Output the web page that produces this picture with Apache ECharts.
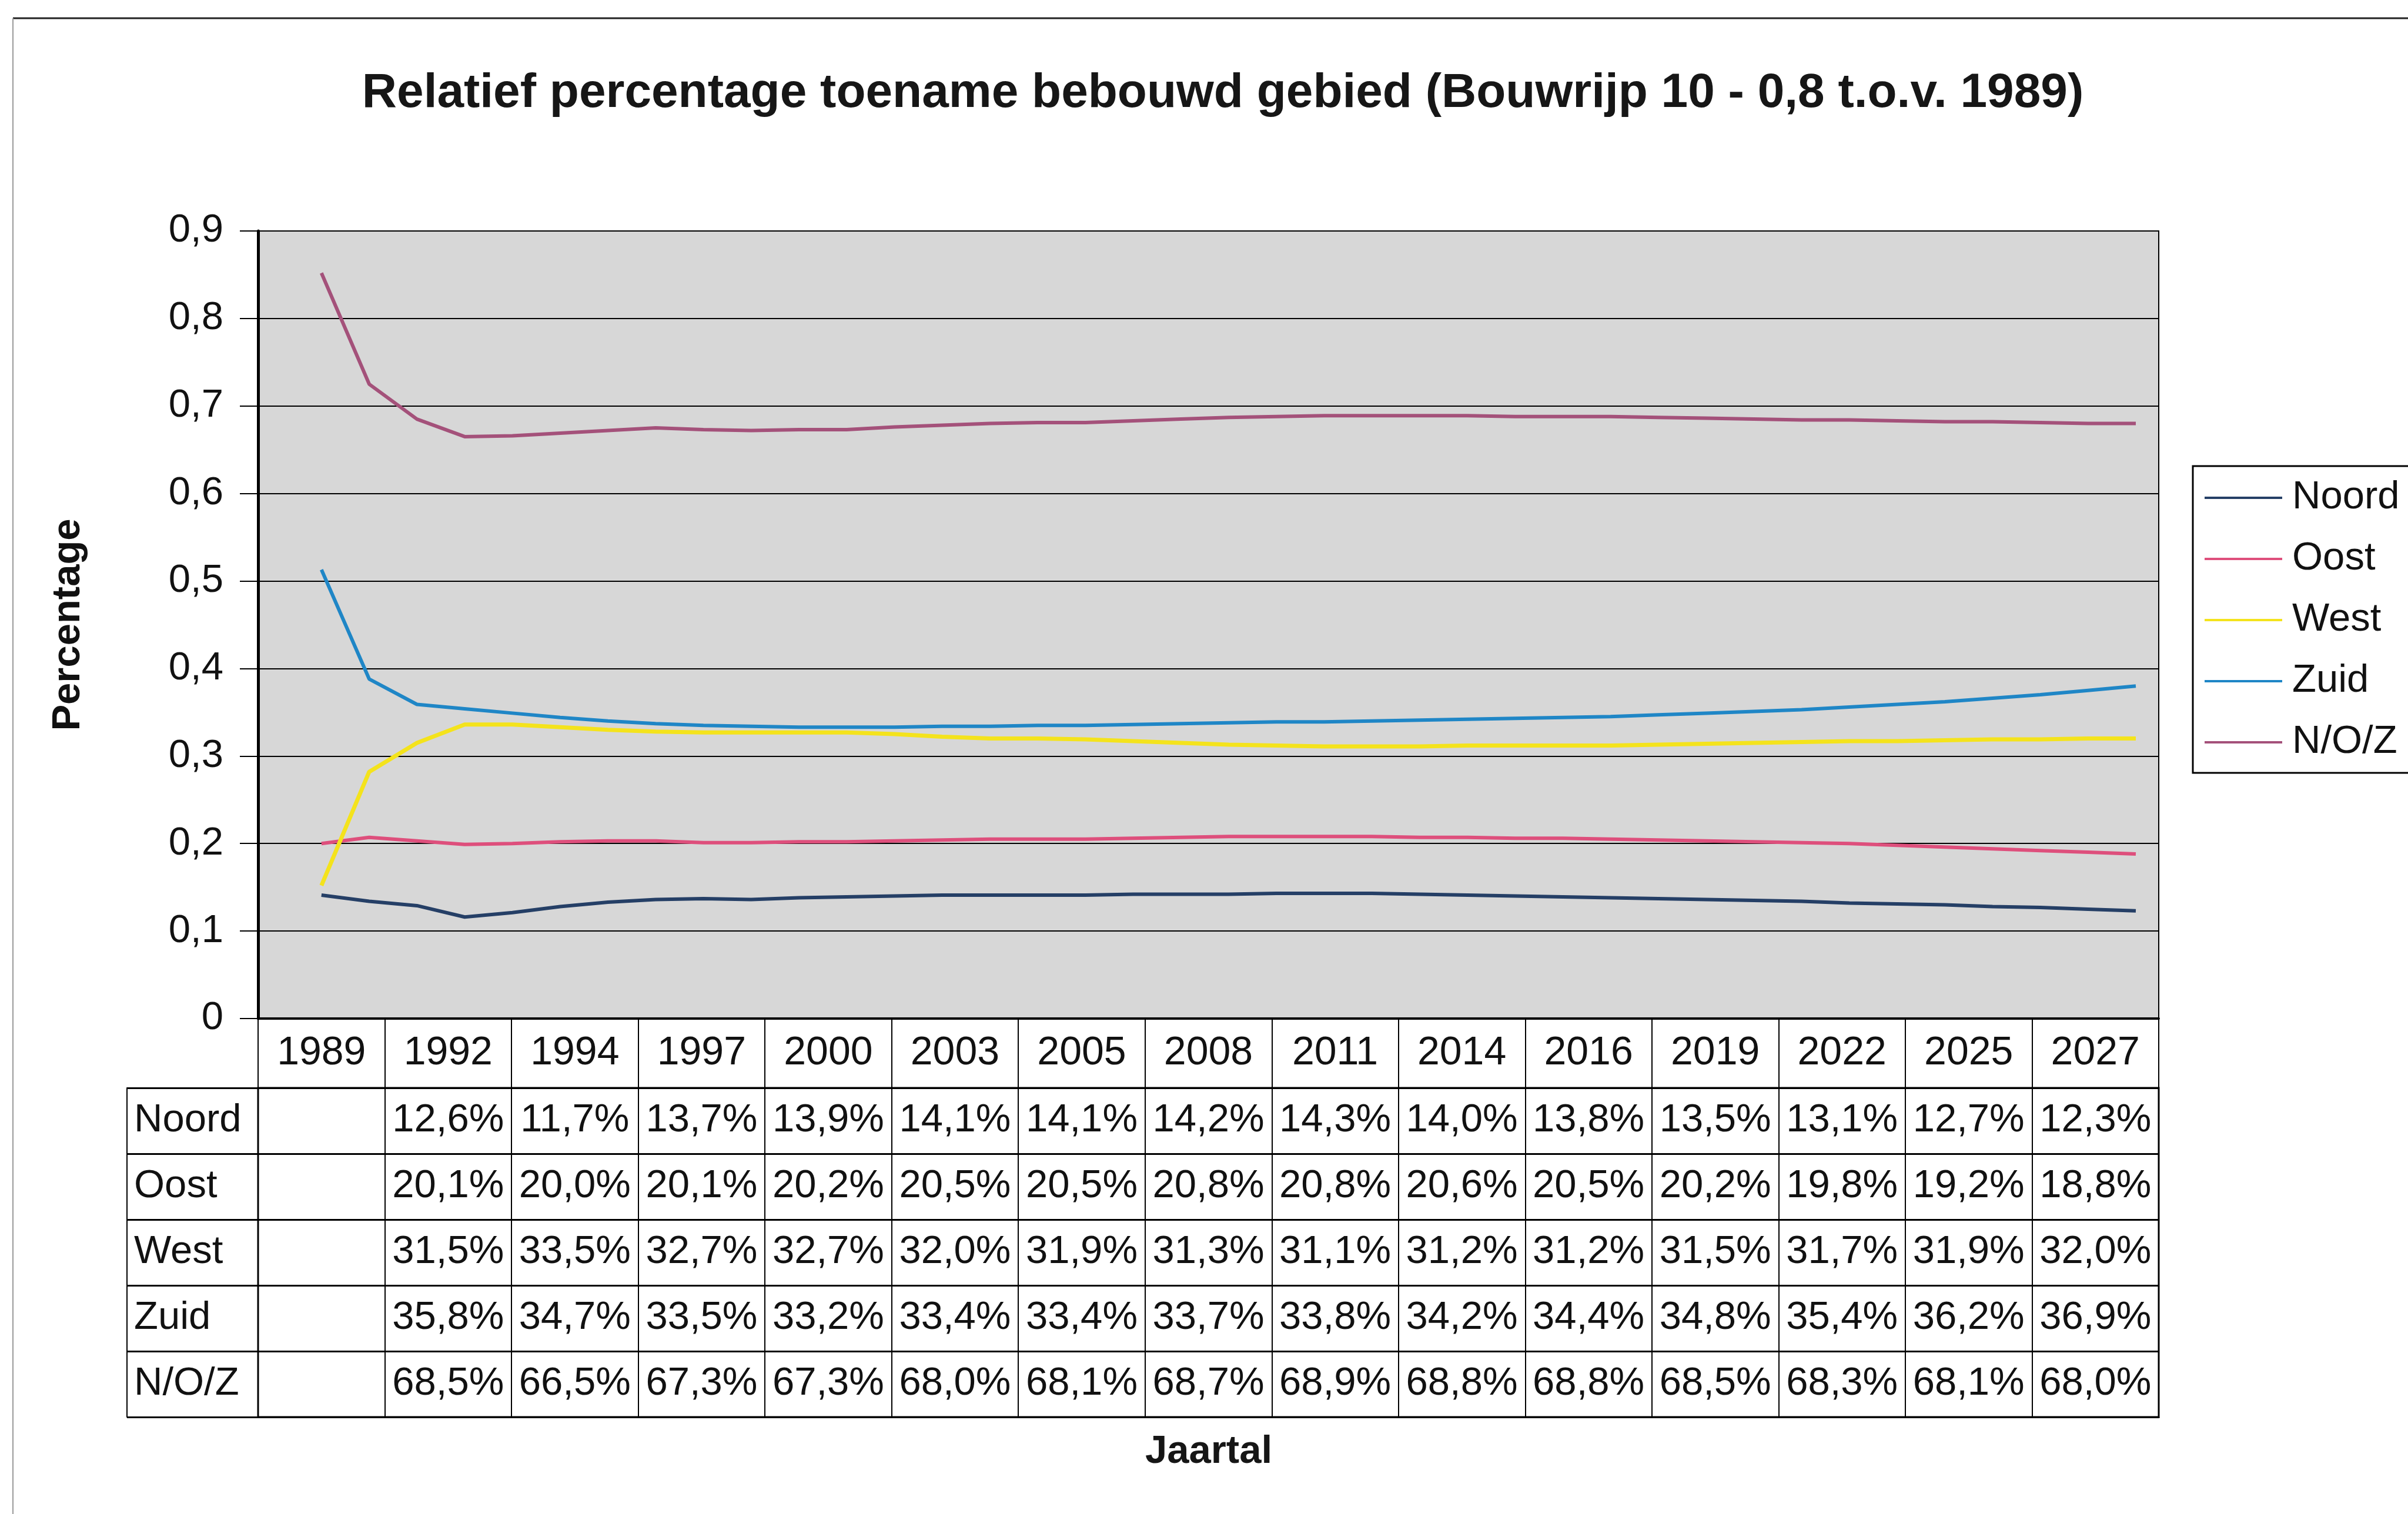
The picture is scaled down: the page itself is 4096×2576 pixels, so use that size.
<!DOCTYPE html>
<html>
<head>
<meta charset="utf-8">
<title>Relatief percentage toename bebouwd gebied</title>
<script src="https://cdn.jsdelivr.net/npm/echarts@6/dist/echarts.min.js"></script>
<style>
  html, body { margin: 0; padding: 0; background: #ffffff; }
  #chart { width: 4096px; height: 2576px; }
</style>
</head>
<body>
<div id="chart"></div>
<script>
// Yearly model output, 1989 - 2027
const years = [1989, 1990, 1991, 1992, 1993, 1994, 1995, 1996, 1997, 1998,
               1999, 2000, 2001, 2002, 2003, 2004, 2005, 2006, 2007, 2008,
               2009, 2010, 2011, 2012, 2013, 2014, 2015, 2016, 2017, 2018,
               2019, 2020, 2021, 2022, 2023, 2024, 2025, 2026, 2027];

const noord = [0.141, 0.134, 0.129, 0.116, 0.121, 0.128, 0.133, 0.136, 0.137, 0.136,
               0.138, 0.139, 0.140, 0.141, 0.141, 0.141, 0.141, 0.142, 0.142, 0.142,
               0.143, 0.143, 0.143, 0.142, 0.141, 0.140, 0.139, 0.138, 0.137, 0.136,
               0.135, 0.134, 0.132, 0.131, 0.130, 0.128, 0.127, 0.125, 0.123];

const oost = [0.200, 0.207, 0.203, 0.199, 0.200, 0.202, 0.203, 0.203, 0.201, 0.201,
              0.202, 0.202, 0.203, 0.204, 0.205, 0.205, 0.205, 0.206, 0.207, 0.208,
              0.208, 0.208, 0.208, 0.207, 0.207, 0.206, 0.206, 0.205, 0.204, 0.203,
              0.202, 0.201, 0.200, 0.198, 0.196, 0.194, 0.192, 0.190, 0.188];

const west = [0.152, 0.282, 0.315, 0.336, 0.336, 0.333, 0.330, 0.328, 0.327, 0.327,
              0.327, 0.327, 0.325, 0.322, 0.320, 0.320, 0.319, 0.317, 0.315, 0.313,
              0.312, 0.311, 0.311, 0.311, 0.312, 0.312, 0.312, 0.312, 0.313, 0.314,
              0.315, 0.316, 0.317, 0.317, 0.318, 0.319, 0.319, 0.320, 0.320];

const zuid = [0.513, 0.388, 0.359, 0.354, 0.349, 0.344, 0.340, 0.337, 0.335, 0.334,
              0.333, 0.333, 0.333, 0.334, 0.334, 0.335, 0.335, 0.336, 0.337, 0.338,
              0.339, 0.339, 0.340, 0.341, 0.342, 0.343, 0.344, 0.345, 0.347, 0.349,
              0.351, 0.353, 0.356, 0.359, 0.362, 0.366, 0.370, 0.375, 0.380];

const noz = [0.852, 0.725, 0.685, 0.665, 0.666, 0.669, 0.672, 0.675, 0.673, 0.672,
             0.673, 0.673, 0.676, 0.678, 0.680, 0.681, 0.681, 0.683, 0.685, 0.687,
             0.688, 0.689, 0.689, 0.689, 0.689, 0.688, 0.688, 0.688, 0.687, 0.686,
             0.685, 0.684, 0.684, 0.683, 0.682, 0.682, 0.681, 0.680, 0.680];

// Data table below the chart (percentages per labelled year)
const tableYears = ['1989', '1992', '1994', '1997', '2000', '2003', '2005', '2008',
                    '2011', '2014', '2016', '2019', '2022', '2025', '2027'];
const rowNames = ['Noord', 'Oost', 'West', 'Zuid', 'N/O/Z'];
const tableNoord = [null, 12.6, 11.7, 13.7, 13.9, 14.1, 14.1, 14.2, 14.3, 14.0, 13.8, 13.5, 13.1, 12.7, 12.3];
const tableOost  = [null, 20.1, 20.0, 20.1, 20.2, 20.5, 20.5, 20.8, 20.8, 20.6, 20.5, 20.2, 19.8, 19.2, 18.8];
const tableWest  = [null, 31.5, 33.5, 32.7, 32.7, 32.0, 31.9, 31.3, 31.1, 31.2, 31.2, 31.5, 31.7, 31.9, 32.0];
const tableZuid  = [null, 35.8, 34.7, 33.5, 33.2, 33.4, 33.4, 33.7, 33.8, 34.2, 34.4, 34.8, 35.4, 36.2, 36.9];
const tableNoz   = [null, 68.5, 66.5, 67.3, 67.3, 68.0, 68.1, 68.7, 68.9, 68.8, 68.8, 68.5, 68.3, 68.1, 68.0];

const seriesColors = ['#253f66', '#de4f7c', '#f4e31c', '#1f86c6', '#a4517a'];
const FONT = '"Liberation Sans", Arial, sans-serif';

// Layout
const plot = { left: 439, top: 393, width: 3233, height: 1340 };
const headerH = 118;
const table = { top: plot.top + plot.height + headerH, height: 560 };
const labelColW = 223;
const colW = plot.width / tableYears.length;
const firstYearX = plot.left + colW / 2;   // first year sits in the middle of the first column
const lastYearX = 3633;                    // last year position
const pxPerYear = (lastYearX - firstYearX) / (years.length - 1);
const yearMin = years[0] - (firstYearX - plot.left) / pxPerYear;
const yearMax = years[years.length - 1] + (plot.left + plot.width - lastYearX) / pxPerYear;

const lineRows = [noord, oost, west, zuid, noz];
const tableRows = [tableNoord, tableOost, tableWest, tableZuid, tableNoz];

const cellData = [];
const cellText = [];
tableRows.forEach((row, r) => {
  row.forEach((v, c) => {
    if (v === null) return;
    cellData.push([c, r]);
    cellText.push(v.toFixed(1).replace('.', ',') + '%');
  });
});

const lineSeries = rowNames.map((name, i) => ({
  name: name,
  type: 'line',
  xAxisIndex: 0,
  yAxisIndex: 0,
  data: years.map((y, k) => [y, lineRows[i][k]]),
  symbol: 'none',
  showSymbol: false,
  color: seriesColors[i],
  lineStyle: { width: i === 2 ? 7 : 6, color: seriesColors[i] },
  z: 3
}));

const chart = echarts.init(document.getElementById('chart'), null, { renderer: 'canvas' });

chart.setOption({
  backgroundColor: '#ffffff',
  animation: false,
  textStyle: { fontFamily: FONT },
  grid: [
    { left: plot.left, top: plot.top, width: plot.width, height: plot.height,
      show: true, backgroundColor: '#d7d7d7', borderColor: '#000', borderWidth: 2 },
    { left: plot.left, top: table.top, width: plot.width, height: table.height,
      show: true, backgroundColor: '#ffffff', borderColor: '#000', borderWidth: 3 }
  ],
  xAxis: [
    { type: 'value', gridIndex: 0, position: 'top', min: yearMin, max: yearMax, show: false },
    { type: 'category', gridIndex: 0, position: 'bottom', data: tableYears, boundaryGap: true,
      axisLine: { show: true, lineStyle: { color: '#000', width: 4 } },
      axisTick: { show: true, interval: 0, length: headerH, lineStyle: { color: '#000', width: 2 } },
      axisLabel: { interval: 0, margin: headerH / 2, verticalAlign: 'middle',
                   fontSize: 68, color: '#111', fontFamily: FONT },
      splitLine: { show: false } },
    { type: 'category', gridIndex: 1, data: tableYears, boundaryGap: true,
      axisLine: { show: true, lineStyle: { color: '#000', width: 3 } },
      axisTick: { show: false }, axisLabel: { show: false },
      splitLine: { show: true, interval: 0, lineStyle: { color: '#000', width: 2 } } }
  ],
  yAxis: [
    { type: 'value', gridIndex: 0, min: 0, max: 0.9, interval: 0.1,
      name: 'Percentage', nameLocation: 'middle', nameGap: 289, nameRotate: 90,
      nameTextStyle: { fontSize: 67, fontWeight: 'bold', color: '#111', fontFamily: FONT },
      axisLine: { show: true, lineStyle: { color: '#000', width: 5 } },
      axisTick: { show: true, length: 31, lineStyle: { color: '#000', width: 2 } },
      axisLabel: { margin: 59, fontSize: 67, color: '#111', fontFamily: FONT,
                   formatter: v => (v === 0 ? '0' : v.toFixed(1).replace('.', ',')) },
      splitLine: { show: true, lineStyle: { color: '#000', width: 2 } } },
    { type: 'category', gridIndex: 1, data: rowNames, inverse: true, boundaryGap: true,
      axisLine: { show: true, lineStyle: { color: '#000', width: 2 } },
      axisTick: { show: true, interval: 0, length: labelColW, lineStyle: { color: '#000', width: 3 } },
      axisLabel: { interval: 0, align: 'left', margin: labelColW - 12, fontSize: 67,
                   color: '#111', fontFamily: FONT },
      splitLine: { show: true, interval: 0, lineStyle: { color: '#000', width: 3 } } },
    { type: 'category', gridIndex: 1, data: rowNames, inverse: true, position: 'left',
      offset: labelColW,
      axisLine: { show: true, lineStyle: { color: '#000', width: 2 } },
      axisTick: { show: false }, axisLabel: { show: false }, splitLine: { show: false } }
  ],
  legend: {
    data: rowNames,
    orient: 'vertical',
    left: 3750,
    top: 813,
    padding: 0,
    icon: 'rect',
    itemWidth: 132,
    itemHeight: 4,
    itemGap: 36,
    textStyle: { fontSize: 67, lineHeight: 68, color: '#111', fontFamily: FONT,
                 padding: [0, 0, 0, 12] },
    z: 10
  },
  graphic: [
    { type: 'line', z: 1, shape: { x1: 22, y1: 31, x2: 4096, y2: 31 },
      style: { stroke: '#222', lineWidth: 3 } },
    { type: 'line', z: 1, shape: { x1: 22, y1: 31, x2: 22, y2: 2576 },
      style: { stroke: '#9a9a9a', lineWidth: 2 } },
    { type: 'text', z: 1, x: 2080, y: 159,
      style: { text: 'Relatief percentage toename bebouwd gebied (Bouwrijp 10 - 0,8 t.o.v. 1989)',
               font: 'bold 82px ' + FONT, fill: '#161616', align: 'center', verticalAlign: 'middle' } },
    { type: 'text', z: 1, x: 2056, y: 2471,
      style: { text: 'Jaartal', font: 'bold 67px ' + FONT, fill: '#161616',
               align: 'center', verticalAlign: 'middle' } },
    { type: 'rect', z: 1, shape: { x: 3730, y: 793, width: 420, height: 522 },
      style: { fill: '#ffffff', stroke: '#000', lineWidth: 3 } }
  ],
  series: lineSeries.concat([{
    type: 'custom',
    xAxisIndex: 2,
    yAxisIndex: 1,
    data: cellData,
    silent: true,
    z: 5,
    renderItem: function (params, api) {
      const p = api.coord([api.value(0), api.value(1)]);
      return {
        type: 'text',
        x: p[0],
        y: p[1],
        style: { text: cellText[params.dataIndex], font: '67px ' + FONT, fill: '#111',
                 align: 'center', verticalAlign: 'middle' }
      };
    }
  }])
});
</script>
</body>
</html>
